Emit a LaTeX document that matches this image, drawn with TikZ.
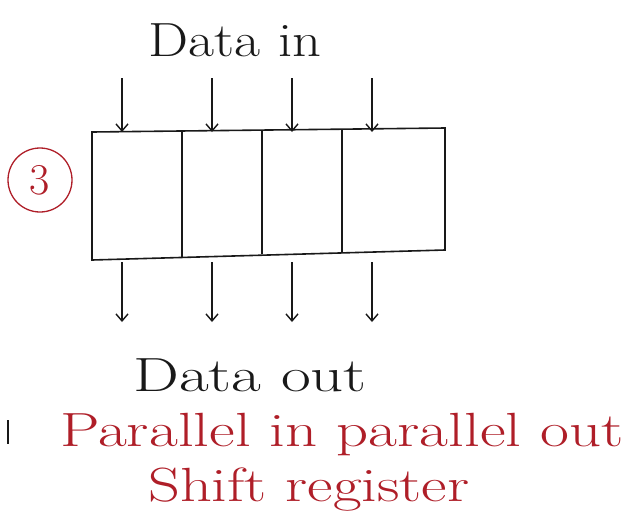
\documentclass[tikz,border=0pt]{standalone}
\usepackage{fontspec}
\usetikzlibrary{arrows.meta}
\definecolor{inkred}{RGB}{175,30,40}
\definecolor{ink}{RGB}{25,25,25}
\begin{document}
\begin{tikzpicture}[x=1pt,y=-1pt,
  reg/.style={draw=ink,line width=1.6pt},
  arr/.style={draw=ink,line width=1.4pt,-{Straight Barb[length=7pt,width=12pt]}},
  lbl/.style={text=ink,font=\fontsize{48}{50}\selectfont},
  redlbl/.style={text=inkred,font=\fontsize{48}{50}\selectfont}]
\useasboundingbox[fill=white] (0,0) rectangle (634,520);
% register
\draw[reg] (92,132) -- (445,128) -- (445,250) -- (92,260) -- cycle;
\draw[reg] (182,132) -- (182,257);
\draw[reg] (262,131) -- (262,254);
\draw[reg] (342,130) -- (342,252);
\node (reg) at (268,192) {};
% inputs
\node[lbl] (din) at (235,40) {\scalebox{1.18}[1]{Data in}};
\foreach \x/\n in {122/a,212/b,292/c,372/d}{
  \coordinate (i\n) at (\x,78);
  \coordinate (j\n) at (\x,132);
  \draw[arr] (i\n) -- (j\n);
}
% outputs
\foreach \x/\n in {122/a,212/b,292/c,372/d}{
  \coordinate (o\n) at (\x,262);
  \coordinate (p\n) at (\x,322);
  \draw[arr] (o\n) -- (p\n);
}
\node[lbl] (dout) at (250,375) {\scalebox{1.35}[1]{Data out}};
% circled number
\node[draw=inkred,text=inkred,circle,line width=1.3pt,minimum size=64pt,inner sep=0pt,font=\fontsize{44}{46}\selectfont] (num) at (40,180) {3};
% caption
\node[redlbl,anchor=west,inner sep=0pt] (cap1) at (60,435) {\scalebox{1.31}[1]{Parallel in parallel out}};
\node[redlbl,anchor=west,inner sep=0pt] (cap2) at (148,490) {\scalebox{1.3}[1]{Shift register}};
\draw[ink,line width=2pt] (8,420) -- (8,444);
\end{tikzpicture}
\end{document}
